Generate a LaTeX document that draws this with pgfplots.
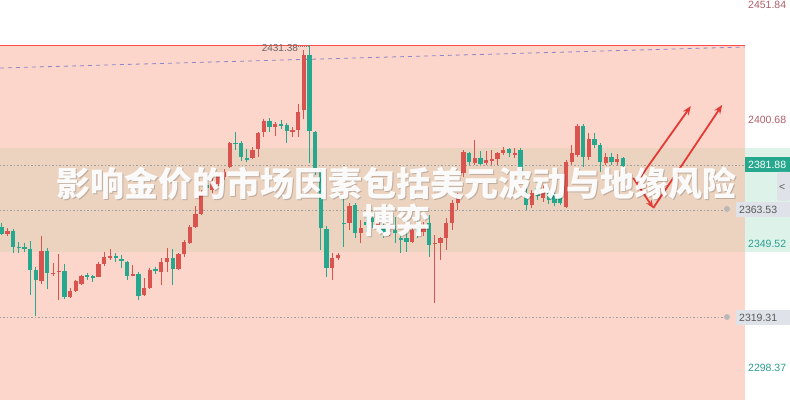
\documentclass[border=0pt]{standalone}
\usepackage{fontspec}
\setmainfont{Liberation Sans}
\newfontfamily\cjk{Noto Sans CJK SC}
\usepackage{pgfplots}
\usepackage{pgfplotstable}
\pgfplotsset{compat=1.18}
\usetikzlibrary{arrows.meta}

\definecolor{pinkbg}{HTML}{FDD6CB}
\definecolor{tanbg}{HTML}{EBD3C0}
\definecolor{mintbg}{HTML}{DDF3EA}
\definecolor{upred}{HTML}{D9534F}
\definecolor{downgreen}{HTML}{26A88E}
\definecolor{mauve}{HTML}{B0606A}
\definecolor{tealtxt}{HTML}{2A9D8F}
\definecolor{arrowred}{HTML}{E53935}
\definecolor{tagbg}{HTML}{DFE2E8}
\definecolor{trendline}{HTML}{8E86C8}

% rising candles (red): index, open, high, low, close
\pgfplotstableread{
i o h l c
1 2353.7 2356.2 2353.0 2354.9
7 2334.5 2353.0 2333.1 2346.7
9 2337.2 2341.6 2336.4 2337.8
10 2337.9 2345.5 2326.5 2338.5
12 2327.9 2331.3 2327.3 2330.2
13 2330.2 2334.8 2329.8 2334.3
14 2333.1 2336.8 2332.7 2336.4
17 2336.1 2342.3 2335.9 2341.4
18 2341.4 2346.4 2340.5 2344.4
19 2344.1 2347.4 2343.0 2344.6
23 2336.7 2340.9 2336.4 2337.2
25 2328.6 2335.4 2328.3 2331.3
26 2331.3 2339.7 2331.1 2338.9
28 2338.2 2343.7 2332.7 2342.1
29 2342.3 2347.8 2338.2 2343.7
31 2339.3 2346.0 2338.9 2345.3
32 2345.3 2351.2 2344.4 2350.5
33 2350.1 2357.4 2349.6 2356.7
34 2356.7 2365.2 2356.1 2361.9
35 2361.9 2371.8 2361.5 2370.5
37 2371.8 2376.8 2370.6 2375.1
38 2374.3 2379.3 2373.5 2377.6
39 2377.3 2380.4 2376.0 2379.4
40 2381.4 2391.7 2380.8 2391.3
44 2384.9 2389.7 2384.5 2388.3
45 2388.6 2395.9 2385.6 2395.4
46 2395.9 2401.0 2393.6 2400.4
48 2397.9 2400.0 2394.1 2399.0
51 2395.9 2397.9 2393.8 2396.6
52 2396.6 2407.3 2393.8 2404.1
53 2404.8 2429.5 2401.0 2427.5
58 2339.6 2345.9 2334.8 2343.7
59 2343.7 2345.9 2343.0 2345.1
61 2358.1 2366.5 2355.4 2365.2
63 2354.0 2359.5 2349.9 2356.1
66 2357.0 2362.0 2355.4 2359.5
68 2354.5 2358.7 2352.9 2356.2
72 2350.5 2356.7 2349.9 2355.4
74 2354.5 2358.7 2352.9 2357.0
76 2349.7 2353.3 2325.2 2350.1
77 2349.9 2352.6 2343.0 2351.9
78 2351.9 2360.2 2347.1 2358.1
79 2358.1 2367.7 2355.4 2366.4
80 2366.4 2370.6 2363.6 2369.8
81 2378.7 2388.3 2377.3 2387.6
83 2382.8 2392.4 2382.1 2384.9
85 2382.8 2387.9 2382.1 2384.2
86 2383.9 2388.3 2382.1 2384.5
87 2384.5 2387.6 2382.1 2387.0
88 2387.0 2389.7 2386.3 2388.3
90 2386.3 2389.1 2385.0 2387.0
93 2365.7 2371.8 2364.3 2370.5
95 2368.5 2373.9 2366.9 2371.0
99 2365.0 2384.2 2364.3 2383.5
100 2383.5 2390.4 2382.1 2387.0
101 2386.3 2399.0 2385.6 2398.2
103 2385.6 2395.2 2384.2 2392.7
106 2382.8 2387.2 2382.1 2385.6
108 2383.5 2386.7 2382.1 2384.6
}\upc

% falling candles (green): index, open, high, low, close
\pgfplotstableread{
i o h l c
0 2356.7 2358.4 2353.3 2353.7
2 2355.1 2355.6 2345.8 2348.5
3 2348.5 2350.5 2346.0 2347.8
4 2348.4 2349.9 2346.4 2347.7
5 2347.5 2350.9 2328.6 2338.9
6 2338.9 2340.2 2319.9 2334.8
8 2346.7 2348.1 2330.9 2337.8
11 2338.5 2341.4 2326.8 2327.6
15 2336.7 2337.8 2334.8 2336.0
16 2336.3 2336.8 2334.1 2335.7
20 2344.6 2346.0 2342.3 2343.7
21 2343.5 2345.1 2339.6 2342.6
22 2342.3 2342.7 2334.8 2336.4
24 2337.2 2338.2 2326.5 2328.3
27 2339.1 2340.2 2337.2 2338.5
30 2343.7 2347.4 2332.7 2339.3
36 2373.9 2376.0 2369.8 2372.7
41 2391.3 2395.9 2388.3 2390.7
42 2391.3 2392.2 2383.9 2385.3
43 2384.9 2388.6 2383.5 2384.2
47 2400.4 2401.4 2395.9 2397.7
49 2399.0 2400.7 2396.8 2398.3
50 2398.6 2399.3 2391.1 2396.3
54 2427.5 2431.38 2383.0 2396.3
55 2395.9 2396.1 2378.0 2380.1
56 2380.1 2380.9 2347.1 2356.1
57 2355.6 2357.0 2336.1 2339.6
60 2358.4 2369.1 2348.5 2357.8
62 2365.6 2366.5 2351.9 2354.0
64 2358.7 2361.5 2354.5 2357.4
65 2360.3 2362.8 2356.2 2358.7
67 2357.4 2359.5 2352.1 2354.5
69 2355.4 2360.8 2349.9 2354.0
70 2351.9 2354.1 2345.8 2351.2
71 2351.9 2356.7 2346.4 2350.5
73 2357.4 2359.5 2352.1 2354.5
75 2358.1 2361.5 2344.4 2349.2
82 2387.0 2387.6 2382.1 2383.5
84 2384.9 2387.9 2382.1 2382.6
89 2388.6 2389.3 2385.6 2387.0
91 2388.3 2389.0 2376.0 2378.0
92 2370.5 2373.2 2363.6 2365.7
94 2372.7 2375.1 2367.7 2369.4
96 2371.0 2372.7 2366.0 2367.7
97 2369.8 2371.8 2365.2 2366.4
98 2369.8 2371.1 2365.7 2366.4
102 2398.2 2399.0 2381.4 2385.6
104 2392.7 2395.5 2389.0 2390.4
105 2390.4 2391.1 2379.4 2383.5
107 2385.6 2387.2 2382.1 2383.5
109 2384.9 2385.6 2380.8 2381.88
}\downc

\begin{document}
\begin{tikzpicture}
\useasboundingbox (0,0) rectangle (790bp,400bp);
\fill[white] (0,0) rectangle (790bp,400bp);
\fill[mintbg] (745bp,148bp) rectangle (790bp,252bp);

\begin{axis}[
    at={(0bp,0bp)}, anchor=south west,
    width=745bp, height=400bp, scale only axis,
    xmin=-0.3, xmax=130.4,
    ymin=2285.32, ymax=2450.12,
    hide axis, clip=false,
    candle/.style={draw=none, no markers, forget plot},
]
% background zones
\fill[pinkbg] (axis cs:-0.3,2285.32) rectangle (axis cs:130.4,2431.38);
\fill[tanbg] (axis cs:-0.3,2346.3) rectangle (axis cs:130.4,2389.1);
\draw[color=red!60!pink, line width=1bp] (axis cs:-0.3,2431.38) -- (axis cs:130.4,2431.38);
\draw[color=trendline, line width=0.8bp, dash pattern=on 4bp off 4bp]
    (axis cs:-0.3,2422.1) -- (axis cs:130.4,2430.76);
\draw[gray!75, line width=0.7bp, dash pattern=on 1.5bp off 2bp]
    (axis cs:-0.3,2381.88) -- (axis cs:130.4,2381.88);
\draw[gray!75, line width=0.7bp, dash pattern=on 1.5bp off 2bp]
    (axis cs:-0.3,2363.53) -- (axis cs:126.9,2363.53);
\draw[gray!75, line width=0.7bp, dash pattern=on 1.5bp off 2bp]
    (axis cs:-0.3,2319.31) -- (axis cs:126.9,2319.31);

% wicks
\addplot[candle,
    error bars/.cd, y dir=plus, y explicit, error mark=none,
    error bar style={line width=0.9bp, draw=upred}]
    table[x=i, y=l, y error plus expr=\thisrow{h}-\thisrow{l}] {\upc};
\addplot[candle,
    error bars/.cd, y dir=plus, y explicit, error mark=none,
    error bar style={line width=0.9bp, draw=downgreen}]
    table[x=i, y=l, y error plus expr=\thisrow{h}-\thisrow{l}] {\downc};
% bodies
\addplot[candle,
    error bars/.cd, y dir=minus, y explicit, error mark=none,
    error bar style={line width=4.3bp, draw=upred}]
    table[x=i, y=c, y error minus expr={max(\thisrow{c}-\thisrow{o},0.6)}] {\upc};
\addplot[candle,
    error bars/.cd, y dir=minus, y explicit, error mark=none,
    error bar style={line width=4.3bp, draw=downgreen}]
    table[x=i, y=o, y error minus expr={max(\thisrow{o}-\thisrow{c},0.6)}] {\downc};

% drawn arrows
\draw[arrowred, line width=1.8bp, -{Stealth[length=9bp,width=7bp]}]
    (axis cs:111.3,2374.7) -- (axis cs:120.9,2406.4);
\draw[arrowred, line width=1.8bp, -{Stealth[length=9bp,width=7bp]}]
    (axis cs:114.3,2364.4) -- (axis cs:126.4,2406.9);
\draw[arrowred, line width=1.8bp, -{Stealth[length=8bp,width=6.5bp]}]
    (axis cs:110.8,2376.8) -- (axis cs:114.3,2364.4);

% high marker
\draw[gray, line width=0.6bp, dash pattern=on 1bp off 1bp]
    (axis cs:52,2431.0) -- (axis cs:53.8,2431.0);
\node[text=black!60, font=\fontsize{10bp}{12bp}\selectfont, inner sep=0pt]
    at (axis cs:48.8,2430.4) {2431.38};
\end{axis}

% price scale
\begin{scope}[every node/.style={anchor=west, inner sep=0pt,
    font=\fontsize{10.5bp}{12bp}\selectfont}]
\node[text=mauve] at (748bp,395bp) {2451.84};
\node[text=mauve] at (748bp,280bp) {2400.68};
\fill[downgreen] (745bp,228bp) rectangle (790bp,243bp);
\node[text=white] at (748bp,235.5bp) {2381.88};
\fill[tagbg, rounded corners=1.5bp] (777bp,199bp) rectangle (790bp,228bp);
\node[text=black!65] at (779bp,213bp) {<};
\fill[tagbg] (736bp,183bp) rectangle (790bp,198bp);
\node[text=black!65] at (739bp,190.5bp) {2363.53};
\fill[gray!55] (727bp,191bp) circle (3bp);
\node[text=tealtxt] at (748bp,156bp) {2349.52};
\fill[tagbg] (736bp,75bp) rectangle (790bp,90bp);
\node[text=black!65] at (739bp,82.5bp) {2319.31};
\fill[gray!55] (727bp,83bp) circle (3bp);
\node[text=tealtxt] at (748bp,32bp) {2298.37};
\end{scope}

% overlaid title
\begin{scope}[every node/.style={inner sep=0pt,
    font=\cjk\bfseries\fontsize{34bp}{36bp}\selectfont}]
\node[text=black, opacity=0.18] at (397bp,215.5bp) {影响金价的市场因素包括美元波动与地缘风险};
\node[text=black, opacity=0.18] at (397bp,178.5bp) {博弈};
\node[text=white, opacity=0.95] at (396bp,217bp) {影响金价的市场因素包括美元波动与地缘风险};
\node[text=white, opacity=0.95] at (396bp,180bp) {博弈};
\end{scope}
\end{tikzpicture}
\end{document}
